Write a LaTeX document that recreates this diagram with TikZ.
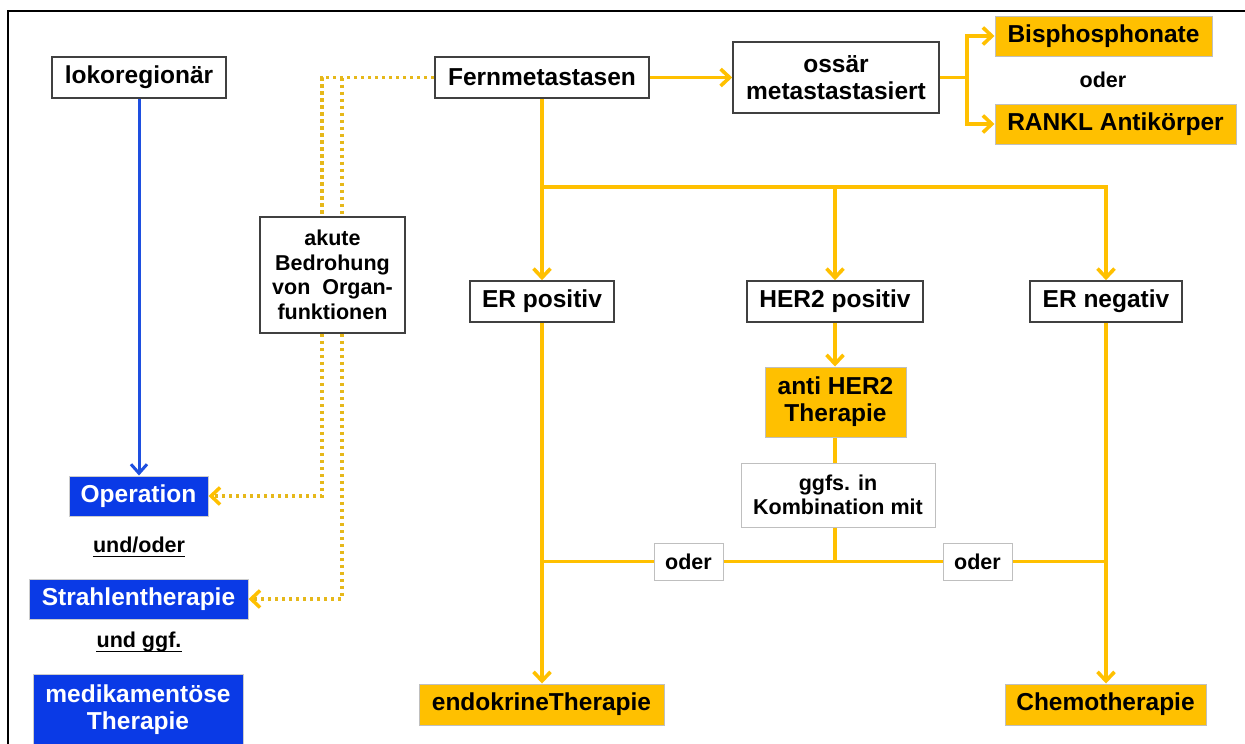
\documentclass[tikz,border=0pt]{standalone}
\usepackage{fontspec}
\setmainfont{Liberation Sans}
\usetikzlibrary{arrows.meta,calc}
\definecolor{orY}{HTML}{FFC000}
\definecolor{dotY}{HTML}{E6B81A}
\definecolor{bl}{HTML}{0A3AE6}
\definecolor{blline}{HTML}{1E4FE0}
\begin{document}
\begin{tikzpicture}[x=1pt,y=-1pt,
 big/.style={font=\bfseries\fontsize{24.5}{27}\selectfont},
 small/.style={font=\bfseries\fontsize{21.5}{24.5}\selectfont},
 wbox/.style={draw=black!75, line width=1.6pt, fill=white, inner sep=0pt, align=center, big},
 obox/.style={draw=black!25, line width=1pt, fill=orY, inner sep=0pt, align=center, big},
 bbox/.style={draw=black!20, line width=1pt, fill=bl, text=white, inner sep=0pt, align=center, big},
 gbox/.style={draw=black!25, line width=1pt, fill=white, inner sep=0pt, align=center, small},
 plain/.style={inner sep=0pt, align=center, small},
 oline/.style={draw=orY, line width=3.6pt},
 oarrow/.style={oline, -{Straight Barb[length=9pt,width=17pt]}},
 barrow/.style={draw=blline, line width=3pt, -{Straight Barb[length=9pt,width=16pt]}},
 dline/.style={draw=dotY, line width=3.5pt, dash pattern=on 3.2pt off 3.8pt},
 darrow/.style={dline, -{Straight Barb[length=9pt,width=17pt,color=orY]}},
]
\useasboundingbox (0,0) rectangle (1245,744);
\draw[line width=2.5pt] (8,746) -- (8,11) -- (1247,11);

% left column
\node[wbox, minimum width=174pt, minimum height=41pt] (loko) at (139,77.5) {lokoregionär};
\node[bbox, minimum width=139pt, minimum height=40pt] (op) at (138.5,496) {Operation};
\node[plain] (uo) at (139,545) {und/oder};
\node[bbox, minimum width=219pt, minimum height=40pt] (strahl) at (138.5,599) {Strahlentherapie};
\node[plain] (ug) at (139,642) {und ggf.};
\node[bbox, minimum width=210pt, minimum height=72pt] (medi) at (138,710) {medikamentöse\\Therapie};
\draw[line width=1.8pt] ($(uo.base west)+(0,4)$) -- ($(uo.base east)+(0,4)$);
\draw[line width=1.8pt] ($(ug.base west)+(0,4)$) -- ($(ug.base east)+(0,4)$);

% akute
\node[wbox, small, minimum width=145pt, minimum height=116pt] (akute) at (332.5,275) {akute\\Bedrohung\\von~~Organ-\\funktionen};

% top row
\node[wbox, minimum width=214pt, minimum height=41pt] (fern) at (542,77.5) {Fernmetastasen};
\node[wbox, minimum width=206pt, minimum height=71pt] (oss) at (836,77.5) {ossär\\metastastasiert};
\node[obox, minimum width=217pt, minimum height=40pt] (bis) at (1103.5,36) {Bisphosphonate};
\node[plain] (oder0) at (1103,80) {oder};
\node[obox, minimum width=241pt, minimum height=40pt] (rankl) at (1115.5,124) {RANKL Antikörper};

% middle row
\node[wbox, minimum width=144pt, minimum height=41pt] (erp) at (542,301.5) {ER positiv};
\node[wbox, minimum width=176pt, minimum height=41pt] (her2) at (835,301.5) {HER2 positiv};
\node[wbox, minimum width=152pt, minimum height=41pt] (ern) at (1106,301.5) {ER negativ};
\node[obox, minimum width=141pt, minimum height=70pt] (anti) at (835.5,402) {anti HER2\\Therapie};
\node[gbox, minimum width=194pt, minimum height=64pt] (ggfs) at (838,495) {ggfs. in\\Kombination mit};
\node[gbox, minimum width=69pt, minimum height=37pt] (oderL) at (688.5,561.5) {oder};
\node[gbox, minimum width=69pt, minimum height=37pt] (oderR) at (977.5,561.5) {oder};

% bottom row
\node[obox, minimum width=245pt, minimum height=41pt] (endo) at (541.5,704.5) {endokrineTherapie};
\node[obox, minimum width=201pt, minimum height=41pt] (chemo) at (1105.5,704.5) {Chemotherapie};

% connectors
\draw[barrow] (loko.south) -- (loko.south |- op.north);
\draw[oarrow] (fern.east) -- (oss.west);
\coordinate (j) at ($(oss.east)+(27,0)$);
\draw[oline] (oss.east) -- (j);
\draw[oarrow] (j) |- (bis.west);
\draw[oarrow] (j) |- (rankl.west);

\coordinate (bar) at (0,187);
\draw[oarrow] (fern.south) -- (fern.south |- erp.north);
\draw[oarrow] (fern.south |- bar) -| (ern.north);
\draw[oarrow] (her2.north |- bar) -- (her2.north);

\draw[oarrow] (her2.south) -- (her2.south |- anti.north);
\draw[oline] (her2.south |- anti.south) -- (her2.south |- ggfs.north);
\draw[oline] (her2.south |- ggfs.south) -- (her2.south |- oderL.center);
\draw[oline] (erp.south |- oderL.center) -- (oderL.west);
\draw[oline] (oderL.east) -- (oderR.west);
\draw[oline] (oderR.east) -- (ern.south |- oderR.center);
\draw[oarrow] (erp.south) -- (erp.south |- endo.north);
\draw[oarrow] (ern.south) -- (ern.south |- chemo.north);

% dotted
\coordinate (dl) at ($(akute.north)+(-10.5,0)$);
\coordinate (dr) at ($(akute.north)+(9.5,0)$);
\draw[dline] (fern.west) -| (dl);
\draw[dline] (fern.west -| dr) -- (dr);
\draw[darrow] (akute.south -| dl) |- (op.east);
\draw[darrow] (akute.south -| dr) |- (strahl.east);
\end{tikzpicture}
\end{document}
